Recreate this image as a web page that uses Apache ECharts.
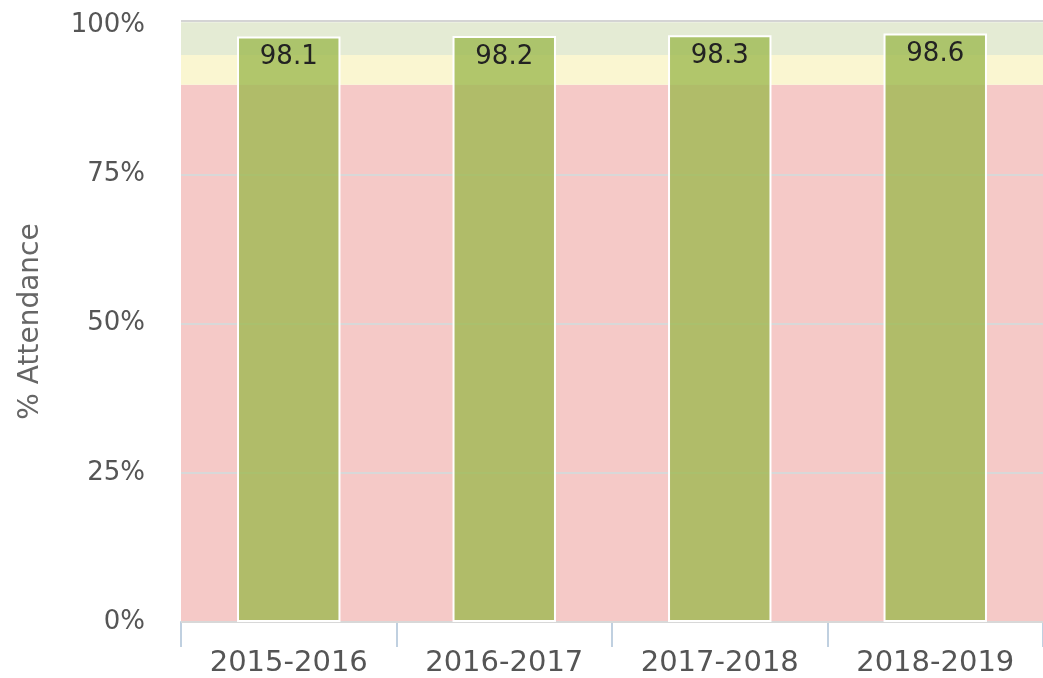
<!DOCTYPE html>
<html>
<head>
<meta charset="utf-8">
<script src="https://cdn.jsdelivr.net/npm/echarts@6/dist/echarts.min.js"></script>
<style>
  html, body { margin: 0; padding: 0; background: #fff; }
  #chart { width: 1043px; height: 678px; }
</style>
</head>
<body>
<div id="chart"></div>
<script>
const years = ['2015-2016', '2016-2017', '2017-2018', '2018-2019']
const attendance = [98.1, 98.2, 98.3, 98.6]
const yTicks = [0, 25, 50, 75, 100]
// target bands: below 90 red, 90-95 yellow, above 95 green
const bandEdges = [0, 90, 95]
const bandColors = ['#f5c9c7', '#faf6d1', '#e4ebd4']

const yMax = 100.7
const labelFont = 'DejaVu Sans, Verdana, sans-serif'

const chart = echarts.init(document.getElementById('chart'))

// last band stops just under the top border line
const bandAreas = bandEdges.map((from, i) => [
  { yAxis: from, itemStyle: { color: bandColors[i] } },
  { yAxis: i + 1 < bandEdges.length ? bandEdges[i + 1] : yMax - 0.2 }
])

chart.setOption({
  animation: false,
  grid: {
    left: 181,
    right: 0,
    top: 21,
    bottom: 56
  },
  xAxis: {
    type: 'category',
    data: years,
    boundaryGap: true,
    axisLine: { lineStyle: { color: '#c0d0e0', width: 2 } },
    axisTick: { show: true, length: 25, lineStyle: { color: '#c0d0e0', width: 2 } },
    axisLabel: {
      color: '#555',
      fontFamily: labelFont,
      fontSize: 29,
      margin: 27
    }
  },
  yAxis: {
    type: 'value',
    min: 0,
    max: yMax,
    interval: 25,
    name: '% Attendance',
    nameLocation: 'middle',
    nameGap: 136,
    nameTextStyle: {
      color: '#666',
      fontFamily: labelFont,
      fontSize: 28
    },
    axisLine: { show: false },
    axisTick: { show: false },
    axisLabel: {
      color: '#555',
      fontFamily: labelFont,
      fontSize: 26,
      margin: 36,
      formatter: (v) => (yTicks.indexOf(v) >= 0 ? v + '%' : '')
    },
    splitLine: {
      show: true,
      lineStyle: {
        // 0,25,50,75,100 then top edge
        color: ['#d8d8d8', '#d8d8d8', '#d8d8d8', '#d8d8d8', 'rgba(0,0,0,0)', '#d4d4d4'],
        width: 2
      }
    },
    z: 3
  },
  series: [
    {
      type: 'bar',
      data: attendance,
      barWidth: '48%',
      z: 4,
      itemStyle: {
        color: 'rgba(156, 184, 78, 0.78)',
        borderColor: '#fff',
        borderWidth: 2
      },
      label: {
        show: true,
        position: 'insideTop',
        distance: 8,
        color: '#222',
        fontFamily: labelFont,
        fontSize: 26
      },
      markArea: {
        silent: true,
        z: 1,
        data: bandAreas
      }
    }
  ]
})
</script>
</body>
</html>
